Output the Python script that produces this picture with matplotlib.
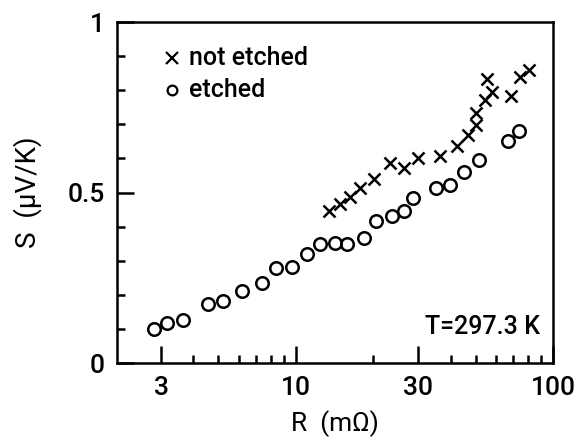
import matplotlib
matplotlib.use("Agg")
import matplotlib.pyplot as plt
from matplotlib.ticker import FixedLocator, NullFormatter

plt.rcParams['font.family'] = ['Roboto', 'DejaVu Sans']
plt.rcParams['font.weight'] = 'medium'

# Thermopower S (uV/K) versus resistance R (mOhm) at T = 297.3 K
r_not_etched = [13.5, 14.8, 16.2, 17.8, 20.2, 23.3, 26.3, 29.9, 36.5, 42.5,
                46.8, 50.2, 50.2, 54.3, 55.2, 58.0, 68.6, 74.7, 80.7]
s_not_etched = [0.446, 0.466, 0.487, 0.513, 0.540, 0.586, 0.572, 0.601, 0.606, 0.636,
                0.670, 0.699, 0.733, 0.771, 0.832, 0.794, 0.782, 0.839, 0.859]

r_etched = [2.80, 3.16, 3.66, 4.58, 5.21, 6.16, 7.40, 8.37, 9.65, 11.1,
            12.4, 14.2, 15.8, 18.5, 20.5, 23.7, 26.3, 28.6, 35.1, 39.7,
            45.2, 51.6, 66.6, 73.8]
s_etched = [0.099, 0.116, 0.127, 0.172, 0.182, 0.210, 0.235, 0.280, 0.282, 0.320,
            0.348, 0.351, 0.348, 0.368, 0.416, 0.431, 0.447, 0.485, 0.512, 0.522,
            0.559, 0.595, 0.652, 0.680]

x_major = [3, 10, 30, 100]
x_labels = ["3", "10", "30", "100"]
y_major = [0, 0.5, 1]
y_labels = ["0", "0.5", "1"]

fig = plt.figure(figsize=(5.86, 4.42), dpi=100)
ax = fig.add_axes([0.1997, 0.1787, 0.7440, 0.7713])

ax.plot(r_not_etched, s_not_etched, linestyle='none', marker='x', markersize=9,
        markeredgewidth=1.8, color='black')
ax.plot(r_etched, s_etched, linestyle='none', marker='o', markersize=9,
        markerfacecolor='none', markeredgewidth=1.8, color='black')

ax.set_xscale('log')
ax.set_xlim(2.02, 100)
ax.set_ylim(0, 1)

ax.xaxis.set_major_locator(FixedLocator(x_major))
ax.set_xticklabels(x_labels)
minor_x = [4, 5, 6, 7, 8, 9, 20, 40, 50, 60, 70, 80, 90]
ax.xaxis.set_minor_locator(FixedLocator(minor_x))
ax.xaxis.set_minor_formatter(NullFormatter())

ax.set_yticks(y_major)
ax.set_yticklabels(y_labels)
ax.yaxis.set_minor_locator(FixedLocator([0.1, 0.2, 0.3, 0.4, 0.6, 0.7, 0.8, 0.9]))

ax.tick_params(which='both', direction='in', top=False, right=False,
               width=1.8, labelsize=19, pad=9)
ax.tick_params(which='major', length=12)
ax.tick_params(which='minor', length=6)

for sp in ax.spines.values():
    sp.set_linewidth(1.8)

ax.set_xlabel("R  (m\u03a9)", fontsize=19, labelpad=8)
ax.set_ylabel("S  (\u03bcV/K)", fontsize=20, labelpad=18)

# Legend drawn as marker + text pairs
ax.plot([3.31], [0.894], linestyle='none', marker='x', markersize=8,
        markeredgewidth=1.6, color='black')
ax.text(3.85, 0.894, "not etched", fontsize=18, va='center', ha='left')
ax.plot([3.31], [0.80], linestyle='none', marker='o', markersize=7,
        markerfacecolor='none', markeredgewidth=1.6, color='black')
ax.text(3.85, 0.80, "etched", fontsize=18, va='center', ha='left')

ax.text(0.970, 0.106, "T=297.3 K", transform=ax.transAxes, fontsize=18,
        ha='right', va='center')

fig.savefig("out.png", dpi=100)
